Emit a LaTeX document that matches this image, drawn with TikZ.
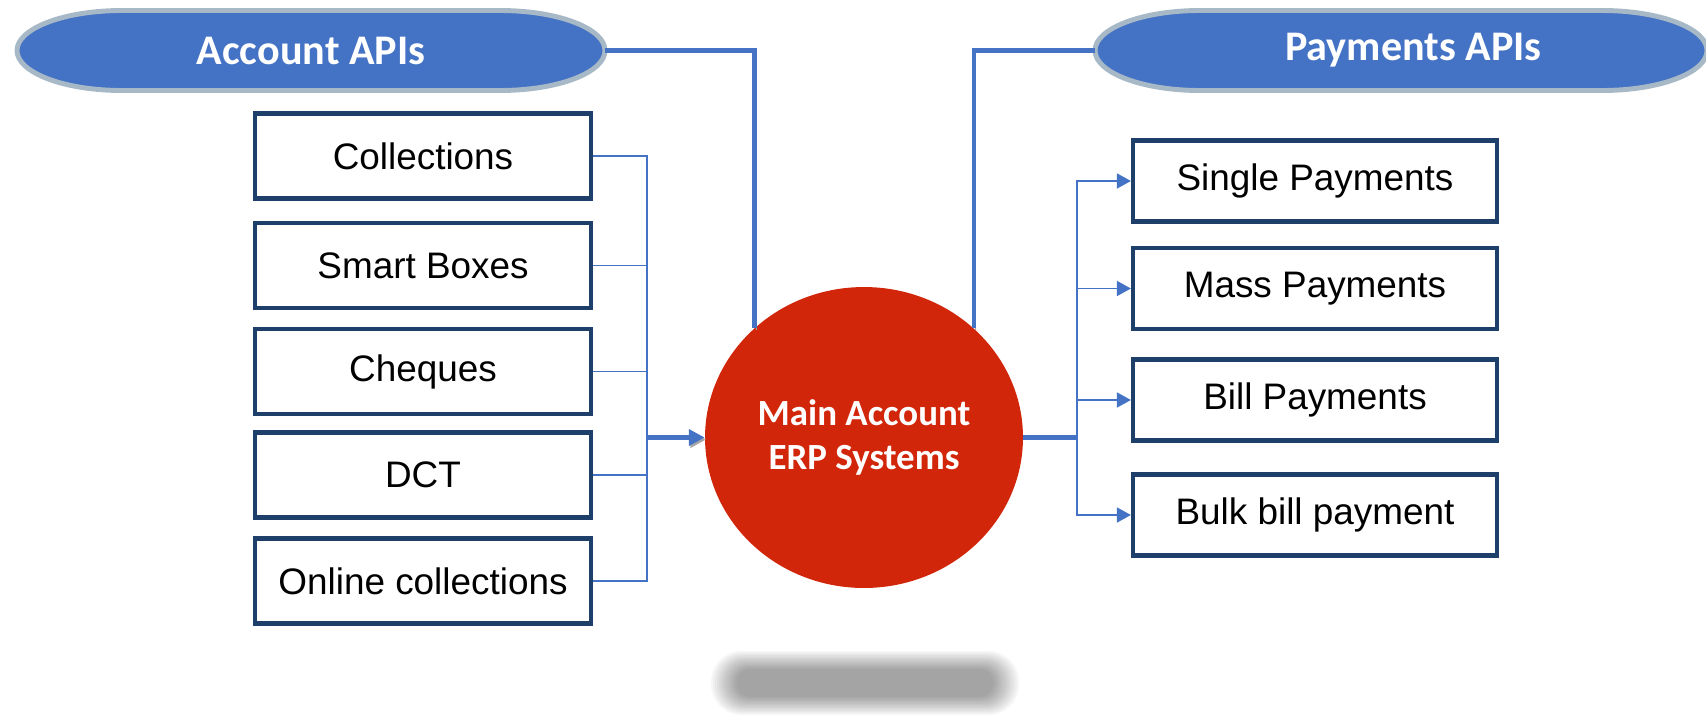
\documentclass[tikz,border=0pt]{standalone}
\usepackage{fontspec}
\setmainfont{Liberation Sans}
\newfontfamily\calibri{Carlito}
\usetikzlibrary{shapes.geometric,arrows.meta}
\definecolor{apiblue}{HTML}{4472C4}
\definecolor{rimgray}{HTML}{A7B8C6}
\definecolor{boxblue}{HTML}{1F3F6B}
\definecolor{erpred}{HTML}{D2260A}
\tikzset{
  headrim/.style={fill=apiblue, draw=rimgray, line width=2.8pt},
  apihead/.style={inner sep=0pt, minimum width=11.76cm, minimum height=1.6cm,
    text=white, font=\calibri\bfseries\fontsize{24}{28}\selectfont},
  inbox/.style={draw=boxblue, line width=2.4pt, fill=white, inner sep=0pt,
    minimum width=6.72cm, minimum height=1.7cm, font=\fontsize{21}{25}\selectfont},
  outbox/.style={inbox, minimum width=7.28cm, minimum height=1.62cm},
  erp/.style={ellipse, fill=erpred, inner sep=0pt, minimum width=6.36cm, minimum height=6.02cm,
    text=white, align=center, font=\calibri\bfseries\fontsize{21}{25.5}\selectfont},
  thinline/.style={draw=apiblue, line width=1.1pt},
  thickline/.style={draw=apiblue, line width=2.3pt,
    preaction={draw=black!35, transform canvas={xshift=0.8pt, yshift=-1.2pt}}},
}
\begin{document}
\begin{tikzpicture}[x=0.02cm, y=-0.02cm]
    \useasboundingbox (0,0) rectangle (1706,717);
    % blurred shadow under the circle
    \foreach \i in {0,...,13} {
      \pgfmathsetmacro\dx{154-2*\i}
      \pgfmathsetmacro\dy{32-1.4*\i}
      \pgfmathsetmacro\rc{\dy*0.019}
      \fill[black, opacity=0.03, rounded corners=\rc cm] (865-\dx,683-\dy) rectangle (865+\dx,683+\dy);
    }
    % header pills
    \foreach \cx/\hw in {311/294, 1401/306}
      \draw [headrim] (\cx-\hw+105,10.5) -- (\cx+\hw-105,10.5)
        arc [start angle=-90, end angle=90, x radius=105, y radius=40]
        -- (\cx-\hw+105,90.5) arc [start angle=90, end angle=270, x radius=105, y radius=40] -- cycle;
    \node [apihead] (acc) at (311,50.5) {Account APIs};
    \node [apihead, minimum width=12.24cm] (pay) at (1401,50.5) {\hspace{14pt}Payments APIs};
    \node [erp] (main) at (864,437.5) {Main Account\\ERP Systems};
    \node [inbox] (coll) at (423,156) {Collections};
    \node [inbox] (smart) at (423,265.5) {Smart Boxes};
    \node [inbox] (cheq) at (423,371.5) {Cheques};
    \node [inbox] (dct) at (423,475) {DCT};
    \node [inbox] (online) at (423,581) {Online collections};
    \node [outbox] (single) at (1315,181) {Single Payments};
    \node [outbox] (mass) at (1315,288.5) {Mass Payments};
    \node [outbox] (bill) at (1315,400) {Bill Payments};
    \node [outbox] (bulk) at (1315,515) {Bulk bill payment};
    \coordinate (inbus) at (647,437.5);
    \coordinate (outbus) at (1077,437.5);
    \draw [thickline] (acc.east) -| (main.135);
    \draw [thickline] (pay.west) -| (main.45);
    \foreach \b in {coll,smart,cheq,dct,online}
      \draw [thinline] (\b.east) -| (inbus);
    \draw [thickline, -{Triangle[length=9pt,width=9pt]}] (inbus) -- (main.west);
    \draw [thickline] (main.east) -- (outbus);
    \foreach \b in {single,mass,bill,bulk}
      \draw [thinline, -{Triangle[length=8pt,width=8.5pt]}] (outbus) |- (\b.west);
  \end{tikzpicture}
\end{document}
